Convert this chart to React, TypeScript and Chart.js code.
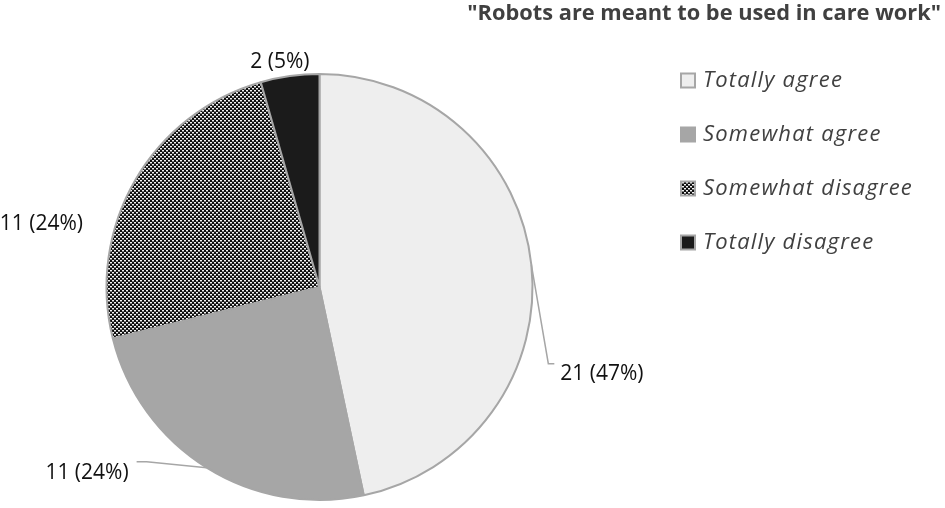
import React, { useEffect, useRef } from 'react';
import { Chart, registerables } from 'chart.js';

Chart.register(...registerables);

const titleText = '"Robots are meant to be used in care work"';
const categories = ['Totally agree', 'Somewhat agree', 'Somewhat disagree', 'Totally disagree'];
const counts = [21, 11, 11, 2];
const percents = [47, 24, 24, 5];

const TEXT_GRAY = '#404040';
const BORDER = '#a6a6a6';
const FONT = '"Open Sans", "Noto Sans", sans-serif';

function makePattern(): CanvasPattern | string {
  const c = document.createElement('canvas');
  c.width = 4;
  c.height = 4;
  const g = c.getContext('2d');
  if (!g) return '#444';
  g.fillStyle = '#0e0e0e';
  g.fillRect(0, 0, 4, 4);
  g.fillStyle = '#f4f4f4';
  g.fillRect(0, 0, 2, 1);
  g.fillRect(2, 2, 2, 1);
  g.fillStyle = '#7a7a7a';
  g.fillRect(0, 1, 2, 1);
  g.fillRect(2, 3, 2, 1);
  return g.createPattern(c, 'repeat') || '#444';
}

// label placement relative to the slice's outer mid-point
const labelLayout = [
  { line: [[17, 99], [23, 99]], tx: 29, ty: 109, align: 'left' },
  { line: [[-60, -6], [-70, -6]], tx: -78, ty: 5, align: 'right' },
  { line: null, tx: -52, ty: 44, align: 'right' },
  { line: null, tx: -10, ty: -14, align: 'center' },
];

const titlePlugin = {
  id: 'customTitle',
  afterDraw(chart: any) {
    const ctx = chart.ctx;
    ctx.save();
    ctx.font = 'bold 21.8px ' + FONT;
    ctx.fillStyle = TEXT_GRAY;
    ctx.textAlign = 'right';
    ctx.textBaseline = 'middle';
    ctx.fillText(titleText, 941, 14);
    ctx.restore();
  },
};

const legendPlugin = {
  id: 'customLegend',
  afterDraw(chart: any) {
    const ctx = chart.ctx;
    const ds = chart.data.datasets[0];
    const names = chart.data.labels as string[];
    ctx.save();
    ctx.textBaseline = 'middle';
    ctx.textAlign = 'left';
    names.forEach((name, i) => {
      const cy = 80.5 + 54 * i;
      ctx.fillStyle = ds.backgroundColor[i];
      ctx.fillRect(681, cy - 7, 14, 14);
      ctx.strokeStyle = BORDER;
      ctx.lineWidth = 2;
      ctx.strokeRect(681, cy - 7, 14, 14);
      ctx.font = 'italic 22px ' + FONT;
      (ctx as any).letterSpacing = '1.2px';
      ctx.fillStyle = TEXT_GRAY;
      ctx.fillText(name, 703, cy);
      (ctx as any).letterSpacing = '0px';
    });
    ctx.restore();
  },
};

const sliceLabelPlugin = {
  id: 'sliceLabels',
  afterDatasetsDraw(chart: any) {
    const ctx = chart.ctx;
    const meta = chart.getDatasetMeta(0);
    ctx.save();
    ctx.font = '21px ' + FONT;
    ctx.fillStyle = '#111';
    ctx.strokeStyle = BORDER;
    ctx.lineWidth = 1.5;
    meta.data.forEach((arc: any, i: number) => {
      const p = arc.getProps(['x', 'y', 'startAngle', 'endAngle', 'outerRadius'], true);
      const mid = (p.startAngle + p.endAngle) / 2;
      const px = p.x + Math.cos(mid) * p.outerRadius;
      const py = p.y + Math.sin(mid) * p.outerRadius;
      const L = labelLayout[i];
      if (L.line) {
        ctx.beginPath();
        ctx.moveTo(px, py);
        L.line.forEach(([dx, dy]) => ctx.lineTo(px + dx, py + dy));
        ctx.stroke();
      }
      ctx.textAlign = L.align;
      ctx.textBaseline = 'middle';
      ctx.fillText(`${counts[i]} (${percents[i]}%)`, px + L.tx, py + L.ty);
    });
    ctx.restore();
  },
};

export default function App() {
  const ref = useRef<HTMLCanvasElement | null>(null);
  useEffect(() => {
    if (!ref.current) return;
    const chart = new Chart(ref.current, {
      type: 'pie',
      data: {
        labels: categories,
        datasets: [
          {
            data: counts,
            backgroundColor: ['#eeeeee', '#a6a6a6', makePattern() as any, '#1b1b1b'],
            borderColor: BORDER,
            borderWidth: 2,
          },
        ],
      },
      options: {
        animation: false,
        responsive: true,
        maintainAspectRatio: false,
        events: [],
        layout: { padding: { top: 73, bottom: 7, left: 0, right: 306 } },
        plugins: {
          legend: { display: false },
          title: { display: false },
          tooltip: { enabled: false },
        },
      },
      plugins: [sliceLabelPlugin, titlePlugin, legendPlugin],
    });
    return () => chart.destroy();
  }, []);
  return (
    <div style={{ position: 'fixed', left: 0, top: 0, width: 945, height: 508, background: '#fff' }}>
      <canvas ref={ref} />
    </div>
  );
}
